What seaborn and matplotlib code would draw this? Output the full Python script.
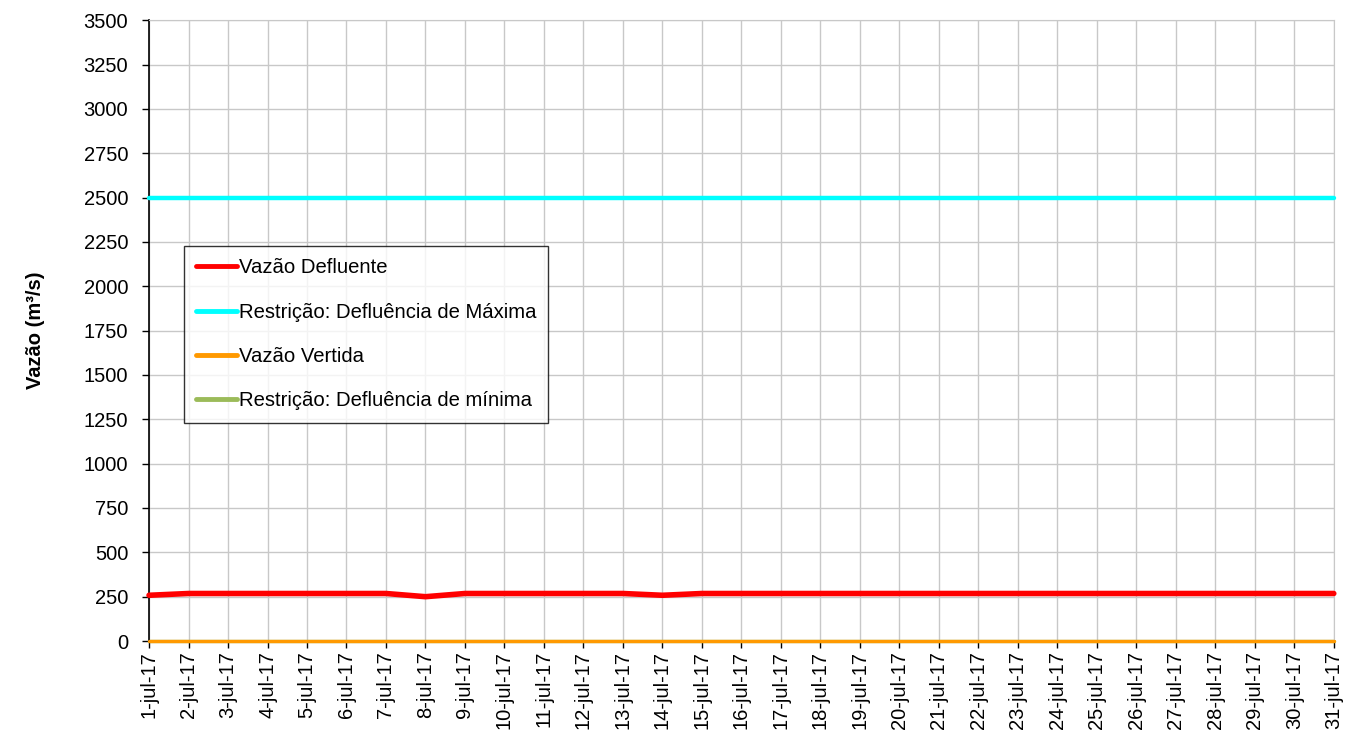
import matplotlib
matplotlib.use("Agg")
import matplotlib.pyplot as plt
import pandas as pd
import seaborn as sns

# dias de julho/2017
dias = list(range(1, 32))
rotulos = [f"{d}-jul-17" for d in dias]

vazao_defluente = [258, 268, 268, 268, 268, 268, 268, 250, 268, 268,
                   268, 268, 268, 258, 268, 268, 268, 268, 268, 268,
                   268, 268, 268, 268, 268, 268, 268, 268, 268, 268, 268]
restricao_maxima = [2500] * 31
vazao_vertida = [0] * 31
restricao_minima = [0] * 31

series = {
    "Vazão Defluente": vazao_defluente,
    "Restrição: Defluência de Máxima": restricao_maxima,
    "Vazão Vertida": vazao_vertida,
    "Restrição: Defluência de mínima": restricao_minima,
}
cores = {
    "Vazão Defluente": "#ff0000",
    "Restrição: Defluência de Máxima": "#00ffff",
    "Vazão Vertida": "#ff9900",
    "Restrição: Defluência de mínima": "#9bbb59",
}
larguras = {
    "Vazão Defluente": 4.0,
    "Restrição: Defluência de Máxima": 3.2,
    "Vazão Vertida": 2.4,
    "Restrição: Defluência de mínima": 2.4,
}
ordem_z = {
    "Vazão Defluente": 4,
    "Restrição: Defluência de Máxima": 3,
    "Vazão Vertida": 3,
    "Restrição: Defluência de mínima": 2,
}

sns.set_style("white")
plt.rcParams["font.family"] = ["Liberation Sans", "DejaVu Sans"]
plt.rcParams["text.color"] = "black"
plt.rcParams["axes.labelcolor"] = "black"
plt.rcParams["xtick.color"] = "black"
plt.rcParams["ytick.color"] = "black"

fig, ax = plt.subplots(figsize=(13.61, 7.48), dpi=100)
fig.subplots_adjust(left=0.1095, right=0.980, top=0.973, bottom=0.143)

for nome, valores in series.items():
    df = pd.DataFrame({"dia": dias, "vazao": valores})
    sns.lineplot(data=df, x="dia", y="vazao", ax=ax, color=cores[nome],
                 linewidth=larguras[nome], label=nome, zorder=ordem_z[nome])
for linha in ax.get_lines():
    linha.set_clip_on(False)

ax.set_xlim(1, 31)
ax.set_ylim(0, 3500)
ax.set_xticks(dias)
ax.set_xticklabels(rotulos, rotation=90, fontsize=14.5)
ax.set_yticks(range(0, 3501, 250))
ax.tick_params(axis="y", labelsize=14.5, direction="out", length=5, width=1,
               left=True, pad=10)
ax.tick_params(axis="x", direction="out", length=5, width=1, bottom=True, pad=2)
ax.grid(True, color="#c8c8c8", linewidth=1)
ax.set_axisbelow(True)
ax.set_xlabel("")
ax.set_ylabel("Vazão (m³/s)", fontsize=14.5, fontweight="bold", labelpad=28)

for lado in ["left", "bottom"]:
    ax.spines[lado].set_color("black")
    ax.spines[lado].set_linewidth(1.2)
for lado in ["top", "right"]:
    ax.spines[lado].set_color("#c8c8c8")

leg = ax.legend(loc="upper left", bbox_to_anchor=(0.0295, 0.636), fontsize=14.6,
                frameon=True, fancybox=False, edgecolor="black",
                handlelength=2.0, handletextpad=0.1, labelspacing=1.25,
                borderpad=0.6, borderaxespad=0)
leg.get_frame().set_linewidth(1.0)
for linha in leg.get_lines():
    linha.set_linewidth(3.5)
    linha.set_solid_capstyle("round")

plt.savefig("out.png", dpi=100)
plt.close()
